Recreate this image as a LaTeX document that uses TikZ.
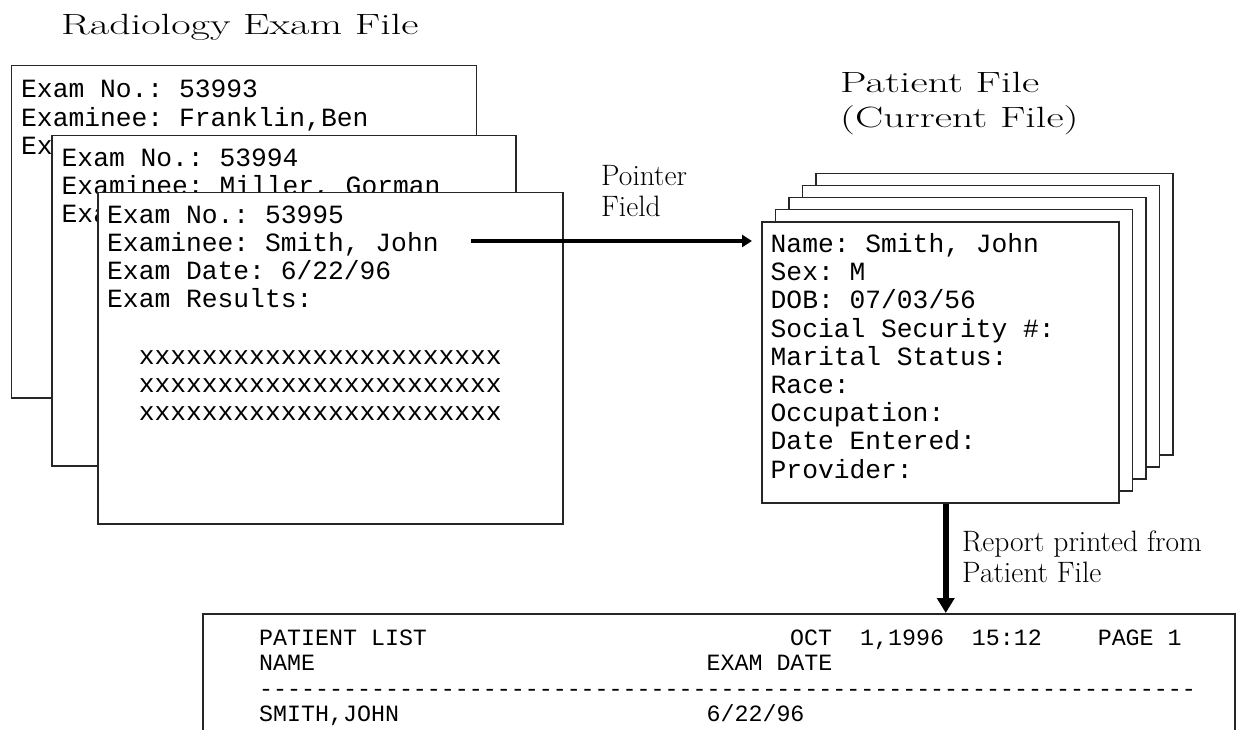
\documentclass[tikz,border=0pt]{standalone}
\usepackage{fontspec}
\setmonofont{Liberation Mono}
\usetikzlibrary{arrows.meta}

\tikzset{
	sheet/.style={draw=black!85, line width=1.5pt, fill=white, anchor=north west, inner sep=0pt},
	rec/.style={font=\ttfamily\fontsize{26.3}{28.2}\selectfont, anchor=base west, inner sep=0pt, align=left},
	rep/.style={font=\ttfamily\fontsize{23.3}{25.6}\selectfont, anchor=base west, inner sep=0pt},
	heading/.style={font=\fontsize{29.3}{35}\selectfont, anchor=base west, inner sep=0pt, align=left},
	note/.style={font=\fontsize{29.5}{31}\selectfont, anchor=base west, inner sep=0pt, align=left},
	pointer/.style={line width=3.3pt, -{Triangle[length=10pt,width=12pt]}},
	feed/.style={line width=6pt, -{Triangle[length=15pt,width=17pt]}}
}
\newcommand{\wide}[1]{\scalebox{1.44}[1]{#1}}

\begin{document}
\begin{tikzpicture}[x=1pt,y=-1pt]
		\useasboundingbox (0,0) rectangle (1239,730);
		\clip (0,0) rectangle (1239,730);
		\node[heading] (examttl) at (61,35) {\wide{Radiology Exam File}};
		\node[sheet, minimum width=465pt, minimum height=332pt] (exam1) at (10.5,65) {};
		\node[rec] (exam1txt) at (21,154.4) {Exam No.: 53993\\Examinee: Franklin,Ben\\Ex};
		\node[sheet, minimum width=464pt, minimum height=330pt] (exam2) at (51,135) {};
		\node[rec] (exam2txt) at (61.5,222.9) {Exam No.: 53994\\Examinee: Miller, Gorman\\Exa};
		\node[sheet, minimum width=465pt, minimum height=331pt] (exam3) at (97,192) {};
		\node[rec] (exam3txt) at (107,420.4) {Exam No.: 53995\\Examinee: Smith, John\\Exam Date: 6/22/96\\Exam Results:\\[28.2pt]~~xxxxxxxxxxxxxxxxxxxxxxx\\~~xxxxxxxxxxxxxxxxxxxxxxx\\~~xxxxxxxxxxxxxxxxxxxxxxx};
		\node[heading] (patttl) at (840,128) {\wide{Patient File}\\\wide{(Current File)}};
		\foreach \k in {4,3,2,1}
			\node[sheet, minimum width=357pt, minimum height=281pt] (pat\k) at (761+13.5*\k,221-12*\k) {};
		\node[sheet, minimum width=357pt, minimum height=281pt] (pat0) at (761,221) {};
		\node[rec] (pattxt) at (770.5,478) {Name: Smith, John\\Sex: M\\DOB: 07/03/56\\Social Security \#:\\Marital Status:\\Race:\\Occupation:\\Date Entered:\\Provider:};
		\coordinate (ptr) at (471,241);
		\draw[pointer, shorten >=9pt] (ptr) -- (ptr -| pat0.west);
		\node[note] (ptrlbl) at (601,216.7) {Pointer\\Field};
		\node[sheet, minimum width=1032pt, minimum height=140pt] (report) at (202,613) {};
		\coordinate (drop) at ([xshift=5.5pt]pat0.south);
		\draw[feed] (drop) -- (drop |- report.north);
		\node[note] (replbl) at (962,582.7) {Report printed from\\Patient File};
		\node[rep] (replist) at (259,645) {PATIENT LIST};
		\node[rep] (repstamp) at (790,645) {OCT~~1,1996~~15:12~~~~PAGE~1};
		\node[rep] (repname) at (259,670.6) {NAME};
		\node[rep] (repdate) at (706.4,670.6) {EXAM DATE};
		\node[rep] (reprule) at (259,696.2) {-------------------------------------------------------------------};
		\node[rep] (repsmith) at (259,721.8) {SMITH,JOHN};
		\node[rep] (repexam) at (706.4,721.8) {6/22/96};
		\end{tikzpicture}
\end{document}
